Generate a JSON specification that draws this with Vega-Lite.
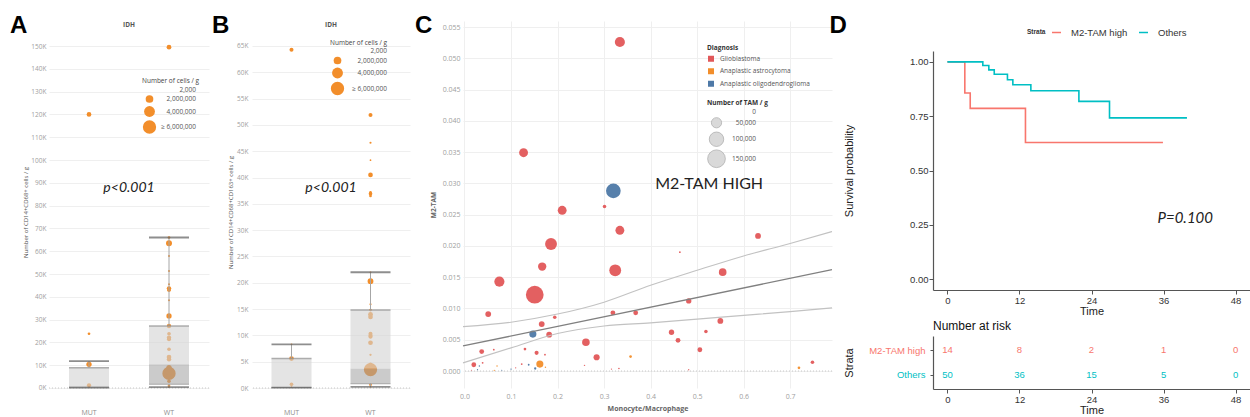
{
  "$schema": "https://vega.github.io/schema/vega-lite/v6.json",
  "padding": {"left": 10, "top": 13, "right": 0, "bottom": 0},
  "autosize": {"type": "pad"},
  "background": "white",
  "config": {"view": {"stroke": null}, "font": "Open Sans", "axis": {"labelOverlap": false}},
  "datasets": {
    "zero": [{"z": 0}],
    "ptsA": [
      {"g": "MUT", "v": 120000, "c": 750000},
      {"g": "MUT", "v": 23800, "c": 250000},
      {"g": "MUT", "v": 10400, "c": 950000},
      {"g": "MUT", "v": 10000, "c": 200000},
      {"g": "MUT", "v": 1200, "c": 600000},
      {"g": "MUT", "v": 400, "c": 100000},
      {"g": "WT", "v": 149500, "c": 750000},
      {"g": "WT", "v": 66000, "c": 250000},
      {"g": "WT", "v": 63500, "c": 1200000},
      {"g": "WT", "v": 57900, "c": 150000},
      {"g": "WT", "v": 51300, "c": 150000},
      {"g": "WT", "v": 45500, "c": 150000},
      {"g": "WT", "v": 43700, "c": 650000},
      {"g": "WT", "v": 42900, "c": 450000},
      {"g": "WT", "v": 38500, "c": 150000},
      {"g": "WT", "v": 31600, "c": 950000},
      {"g": "WT", "v": 27200, "c": 650000},
      {"g": "WT", "v": 23800, "c": 450000},
      {"g": "WT", "v": 22100, "c": 650000},
      {"g": "WT", "v": 21400, "c": 550000},
      {"g": "WT", "v": 17000, "c": 450000},
      {"g": "WT", "v": 13600, "c": 750000},
      {"g": "WT", "v": 12600, "c": 650000},
      {"g": "WT", "v": 8900, "c": 950000},
      {"g": "WT", "v": 7500, "c": 1700000},
      {"g": "WT", "v": 6400, "c": 6000000},
      {"g": "WT", "v": 5000, "c": 950000},
      {"g": "WT", "v": 3000, "c": 450000},
      {"g": "WT", "v": 900, "c": 250000},
      {"g": "WT", "v": 400, "c": 100000}
    ],
    "boxA": [
      {"g": "MUT", "lo": 200, "q1": 300, "med": 600, "q3": 8900, "hi": 11800},
      {"g": "WT", "lo": 400, "q1": 1600, "med": 10400, "q3": 27200, "hi": 66000}
    ],
    "ptsB": [
      {"g": "MUT", "v": 64300, "c": 550000},
      {"g": "MUT", "v": 8300, "c": 100000},
      {"g": "MUT", "v": 5600, "c": 750000},
      {"g": "MUT", "v": 700, "c": 450000},
      {"g": "MUT", "v": 150, "c": 100000},
      {"g": "WT", "v": 51900, "c": 550000},
      {"g": "WT", "v": 46600, "c": 150000},
      {"g": "WT", "v": 43300, "c": 100000},
      {"g": "WT", "v": 40500, "c": 750000},
      {"g": "WT", "v": 37200, "c": 250000},
      {"g": "WT", "v": 36900, "c": 450000},
      {"g": "WT", "v": 36500, "c": 250000},
      {"g": "WT", "v": 22000, "c": 100000},
      {"g": "WT", "v": 20300, "c": 1150000},
      {"g": "WT", "v": 15900, "c": 150000},
      {"g": "WT", "v": 14800, "c": 250000},
      {"g": "WT", "v": 14000, "c": 750000},
      {"g": "WT", "v": 13500, "c": 750000},
      {"g": "WT", "v": 10300, "c": 550000},
      {"g": "WT", "v": 9900, "c": 650000},
      {"g": "WT", "v": 9700, "c": 450000},
      {"g": "WT", "v": 8600, "c": 750000},
      {"g": "WT", "v": 6300, "c": 180000},
      {"g": "WT", "v": 4500, "c": 450000},
      {"g": "WT", "v": 3500, "c": 6000000},
      {"g": "WT", "v": 600, "c": 250000},
      {"g": "WT", "v": 200, "c": 100000}
    ],
    "boxB": [
      {"g": "MUT", "lo": 60, "q1": 100, "med": 250, "q3": 5600, "hi": 8300},
      {"g": "WT", "lo": 200, "q1": 800, "med": 3700, "q3": 14800, "hi": 22000}
    ],
    "ptsC": [
      {"x": 0.334, "y": 0.0526, "d": "Glioblastoma", "m": 48700},
      {"x": 0.127, "y": 0.0349, "d": "Glioblastoma", "m": 37500},
      {"x": 0.320, "y": 0.0288, "d": "Anaplastic oligodendroglioma", "m": 103000},
      {"x": 0.301, "y": 0.0263, "d": "Glioblastoma", "m": 6000},
      {"x": 0.210, "y": 0.0257, "d": "Glioblastoma", "m": 37500},
      {"x": 0.334, "y": 0.0225, "d": "Glioblastoma", "m": 37500},
      {"x": 0.631, "y": 0.0216, "d": "Glioblastoma", "m": 16000},
      {"x": 0.186, "y": 0.0203, "d": "Glioblastoma", "m": 67000},
      {"x": 0.463, "y": 0.0190, "d": "Glioblastoma", "m": 1500},
      {"x": 0.167, "y": 0.0167, "d": "Glioblastoma", "m": 33000},
      {"x": 0.324, "y": 0.0161, "d": "Glioblastoma", "m": 67000},
      {"x": 0.555, "y": 0.0158, "d": "Glioblastoma", "m": 28000},
      {"x": 0.075, "y": 0.0143, "d": "Glioblastoma", "m": 49000},
      {"x": 0.151, "y": 0.0122, "d": "Glioblastoma", "m": 150000},
      {"x": 0.482, "y": 0.0112, "d": "Glioblastoma", "m": 13500},
      {"x": 0.051, "y": 0.0091, "d": "Glioblastoma", "m": 16000},
      {"x": 0.319, "y": 0.0093, "d": "Glioblastoma", "m": 11000},
      {"x": 0.368, "y": 0.0093, "d": "Glioblastoma", "m": 11000},
      {"x": 0.194, "y": 0.0086, "d": "Glioblastoma", "m": 6000},
      {"x": 0.550, "y": 0.0080, "d": "Glioblastoma", "m": 16000},
      {"x": 0.166, "y": 0.0075, "d": "Glioblastoma", "m": 16000},
      {"x": 0.182, "y": 0.0058, "d": "Glioblastoma", "m": 16000},
      {"x": 0.147, "y": 0.0059, "d": "Anaplastic oligodendroglioma", "m": 24000},
      {"x": 0.445, "y": 0.0062, "d": "Glioblastoma", "m": 13500},
      {"x": 0.519, "y": 0.0063, "d": "Glioblastoma", "m": 6000},
      {"x": 0.459, "y": 0.0049, "d": "Glioblastoma", "m": 11000},
      {"x": 0.261, "y": 0.0046, "d": "Glioblastoma", "m": 28000},
      {"x": 0.506, "y": 0.0034, "d": "Glioblastoma", "m": 11000},
      {"x": 0.037, "y": 0.0031, "d": "Glioblastoma", "m": 11000},
      {"x": 0.063, "y": 0.0034, "d": "Glioblastoma", "m": 1500},
      {"x": 0.130, "y": 0.0035, "d": "Glioblastoma", "m": 3400},
      {"x": 0.155, "y": 0.0029, "d": "Glioblastoma", "m": 8000},
      {"x": 0.173, "y": 0.0026, "d": "Glioblastoma", "m": 1500},
      {"x": 0.284, "y": 0.0022, "d": "Glioblastoma", "m": 18000},
      {"x": 0.357, "y": 0.0023, "d": "Anaplastic astrocytoma", "m": 3400},
      {"x": 0.020, "y": 0.0010, "d": "Glioblastoma", "m": 11000},
      {"x": 0.162, "y": 0.0011, "d": "Anaplastic astrocytoma", "m": 24000},
      {"x": 0.719, "y": 0.0005, "d": "Anaplastic astrocytoma", "m": 3400},
      {"x": 0.748, "y": 0.0014, "d": "Glioblastoma", "m": 6000},
      {"x": 0.039, "y": 0.0013, "d": "Glioblastoma", "m": 1500},
      {"x": 0.015, "y": 0.0001, "d": "Glioblastoma", "m": 800},
      {"x": 0.028, "y": 0.0002, "d": "Anaplastic oligodendroglioma", "m": 800},
      {"x": 0.032, "y": 0.0008, "d": "Anaplastic oligodendroglioma", "m": 1000},
      {"x": 0.064, "y": 0.0001, "d": "Anaplastic astrocytoma", "m": 800},
      {"x": 0.070, "y": 0.0008, "d": "Anaplastic astrocytoma", "m": 1000},
      {"x": 0.080, "y": 0.0001, "d": "Anaplastic oligodendroglioma", "m": 800},
      {"x": 0.100, "y": 0.0003, "d": "Anaplastic oligodendroglioma", "m": 1000},
      {"x": 0.110, "y": 0.0005, "d": "Glioblastoma", "m": 800},
      {"x": 0.123, "y": 0.0011, "d": "Glioblastoma", "m": 1500},
      {"x": 0.138, "y": 0.0010, "d": "Anaplastic oligodendroglioma", "m": 1500},
      {"x": 0.152, "y": 0.0004, "d": "Anaplastic oligodendroglioma", "m": 2500},
      {"x": 0.174, "y": 0.0006, "d": "Anaplastic astrocytoma", "m": 1000},
      {"x": 0.258, "y": 0.0009, "d": "Glioblastoma", "m": 1000},
      {"x": 0.316, "y": 0.0003, "d": "Glioblastoma", "m": 800},
      {"x": 0.332, "y": 0.0004, "d": "Glioblastoma", "m": 1200},
      {"x": 0.482, "y": 0.0002, "d": "Glioblastoma", "m": 800}
    ],
    "fitMid": [
      {"x": -0.0032, "y": 0.0040},
      {"x": 0.79, "y": 0.0162}
    ],
    "fitCI": [
      {"l": "upper", "x": -0.0032, "y": 0.0071},
      {"l": "upper", "x": 0.1, "y": 0.0078},
      {"l": "upper", "x": 0.2, "y": 0.0091},
      {"l": "upper", "x": 0.3, "y": 0.0110},
      {"l": "upper", "x": 0.4, "y": 0.0137},
      {"l": "upper", "x": 0.5, "y": 0.0161},
      {"l": "upper", "x": 0.6, "y": 0.0184},
      {"l": "upper", "x": 0.7, "y": 0.0204},
      {"l": "upper", "x": 0.79, "y": 0.0223},
      {"l": "lower", "x": -0.0032, "y": 0.0013},
      {"l": "lower", "x": 0.1, "y": 0.0037},
      {"l": "lower", "x": 0.2, "y": 0.0060},
      {"l": "lower", "x": 0.3, "y": 0.0072},
      {"l": "lower", "x": 0.4, "y": 0.0077},
      {"l": "lower", "x": 0.5, "y": 0.0083},
      {"l": "lower", "x": 0.6, "y": 0.0089},
      {"l": "lower", "x": 0.7, "y": 0.0095},
      {"l": "lower", "x": 0.79, "y": 0.0101}
    ],
    "km": [
      {"k": "M2-TAM high", "t": 0, "s": 1},
      {"k": "M2-TAM high", "t": 2.9, "s": 0.857},
      {"k": "M2-TAM high", "t": 3.8, "s": 0.786},
      {"k": "M2-TAM high", "t": 13.0, "s": 0.629},
      {"k": "M2-TAM high", "t": 35.9, "s": 0.629},
      {"k": "Others", "t": 0, "s": 1},
      {"k": "Others", "t": 5.9, "s": 0.983},
      {"k": "Others", "t": 6.9, "s": 0.963},
      {"k": "Others", "t": 7.8, "s": 0.943},
      {"k": "Others", "t": 10.0, "s": 0.918},
      {"k": "Others", "t": 10.9, "s": 0.895},
      {"k": "Others", "t": 13.9, "s": 0.867},
      {"k": "Others", "t": 21.9, "s": 0.818},
      {"k": "Others", "t": 27.0, "s": 0.742},
      {"k": "Others", "t": 39.9, "s": 0.742}
    ],
    "risk": [
      {"k": "M2-TAM high", "t": 0, "n": 14},
      {"k": "M2-TAM high", "t": 12, "n": 8},
      {"k": "M2-TAM high", "t": 24, "n": 2},
      {"k": "M2-TAM high", "t": 36, "n": 1},
      {"k": "M2-TAM high", "t": 48, "n": 0},
      {"k": "Others", "t": 0, "n": 50},
      {"k": "Others", "t": 12, "n": 36},
      {"k": "Others", "t": 24, "n": 15},
      {"k": "Others", "t": 36, "n": 5},
      {"k": "Others", "t": 48, "n": 0}
    ]
  },
  "bounds": "flush",
  "spacing": 10,
  "resolve": {
    "scale": {"x": "independent", "y": "independent", "color": "independent", "size": "independent"},
    "legend": {"color": "independent", "size": "independent"}
  },
  "hconcat": [
    {
      "width": 160,
      "height": 382,
      "encoding": {
        "x": {"field": "g", "type": "nominal", "scale": {"type": "band", "domain": ["MUT", "WT"], "paddingInner": 0, "paddingOuter": 0},
          "axis": {"title": null, "labelAngle": 0, "labelFontSize": 7, "labelColor": "#8c8c8c", "labelFont": "Open Sans", "ticks": false, "domain": false, "grid": false, "labelPadding": 5}},
        "y": {"type": "quantitative", "scale": {"domain": [-6579, 160965], "nice": false, "zero": false},
          "axis": {"values": [0, 10000, 20000, 30000, 40000, 50000, 60000, 70000, 80000, 90000, 100000, 110000, 120000, 130000, 140000, 150000],
            "labelExpr": "(datum.value/1000) + 'K'", "labelOverlap": false, "title": "Number of CD14+CD68+ cells / g", "titleFontSize": 6, "titleFont": "Open Sans", "titleColor": "#555555", "titleFontWeight": "normal", "titlePadding": 1, "minExtent": 20, "maxExtent": 20,
            "labelFontSize": 6.5, "labelColor": "#a0a0a0", "labelPadding": 3, "ticks": false, "domain": false, "grid": true, "gridColor": "#efefef"}}
      },
      "layer": [
        {
          "data": {"name": "ptsA"},
          "mark": {"type": "circle", "color": "#f28e2b", "opacity": 1},
          "encoding": {
            "y": {"field": "v", "type": "quantitative"},
            "size": {"field": "c", "type": "quantitative", "scale": {"domain": [0, 6000000], "range": [0, 177]},
              "legend": {"title": "Number of cells / g", "orient": "none", "legendX": 93, "legendY": 57, "values": [2000, 2000000, 4000000, 6000000],
                "labelExpr": "datum.value >= 6000000 ? '≥ 6,000,000' : format(datum.value, ',')",
                "titleFontSize": 6.5, "titleFont": "Open Sans", "titleColor": "#444444", "titleFontWeight": "normal", "titlePadding": 2,
                "labelFontSize": 6.5, "labelFont": "Open Sans", "labelColor": "#555555", "labelAlign": "right", "labelOffset": 39, "rowPadding": 0, "padding": 0, "symbolType": "circle",
                "symbolFillColor": "#d9d9d9", "symbolStrokeColor": "#a8a8a8", "symbolStrokeWidth": 0.7, "symbolOpacity": 1}},
            "order": {"field": "c", "sort": "descending"}
          }
        },
        {"data": {"name": "zero"}, "mark": {"type": "rule", "color": "#c8c8c8", "strokeDash": [1, 2], "strokeWidth": 1}, "encoding": {"x": null, "y": {"field": "z", "type": "quantitative"}}},
        {"data": {"name": "boxA"}, "mark": {"type": "rule", "color": "#a6a6a6", "strokeWidth": 1}, "encoding": {"y": {"field": "q3", "type": "quantitative"}, "y2": {"field": "hi"}}},
        {"data": {"name": "boxA"}, "mark": {"type": "rule", "color": "#a6a6a6", "strokeWidth": 1}, "encoding": {"y": {"field": "lo", "type": "quantitative"}, "y2": {"field": "q1"}}},
        {"data": {"name": "boxA"}, "mark": {"type": "bar", "size": 40, "color": "#a0a0a0", "opacity": 0.55}, "encoding": {"y": {"field": "q1", "type": "quantitative"}, "y2": {"field": "med"}}},
        {"data": {"name": "boxA"}, "mark": {"type": "bar", "size": 40, "color": "#d2d2d2", "opacity": 0.6}, "encoding": {"y": {"field": "med", "type": "quantitative"}, "y2": {"field": "q3"}}},
        {"data": {"name": "boxA"}, "mark": {"type": "tick", "size": 40, "thickness": 1.5, "color": "#8f8f8f"}, "encoding": {"y": {"field": "q3", "type": "quantitative"}}},
        {"data": {"name": "boxA"}, "mark": {"type": "tick", "size": 40, "thickness": 1, "color": "#8f8f8f"}, "encoding": {"y": {"field": "q1", "type": "quantitative"}}},
        {"data": {"name": "boxA"}, "mark": {"type": "tick", "size": 40, "thickness": 1.8, "color": "#5e5e5e"}, "encoding": {"y": {"field": "hi", "type": "quantitative"}}},
        {"data": {"name": "boxA"}, "mark": {"type": "tick", "size": 40, "thickness": 1.8, "color": "#5e5e5e"}, "encoding": {"y": {"field": "lo", "type": "quantitative"}}},
        {"data": {"values": [{}]}, "mark": {"type": "text", "text": "p<0.001", "font": "Lato", "fontStyle": "italic", "fontSize": 14, "align": "center", "baseline": "middle", "color": "#222222"},
          "encoding": {"x": {"datum": "WT", "bandPosition": 0}, "y": {"datum": 87719}}},
        {"data": {"values": [{}]}, "mark": {"type": "text", "text": "IDH", "font": "Open Sans", "fontWeight": "bold", "fontSize": 6.5, "align": "center", "baseline": "middle", "color": "#555555"},
          "encoding": {"x": {"datum": "WT", "bandPosition": 0}, "y": {"datum": 159210}}},
        {"data": {"values": [{}]}, "mark": {"type": "text", "text": "A", "font": "Liberation Sans", "fontWeight": "bold", "fontSize": 24, "align": "left", "baseline": "alphabetic", "color": "#000000", "dx": -39},
          "encoding": {"x": {"datum": "MUT", "bandPosition": 0}, "y": {"datum": 155700}}}
      ]
    },
    {"width": 23, "height": 1, "data": {"values": [{}]}, "mark": {"type": "point", "opacity": 0}, "encoding": {}},
    {
      "width": 158,
      "height": 382,
      "encoding": {
        "x": {"field": "g", "type": "nominal", "scale": {"type": "band", "domain": ["MUT", "WT"], "paddingInner": 0, "paddingOuter": 0},
          "axis": {"title": null, "labelAngle": 0, "labelFontSize": 7, "labelColor": "#8c8c8c", "labelFont": "Open Sans", "ticks": false, "domain": false, "grid": false, "labelPadding": 5}},
        "y": {"type": "quantitative", "scale": {"domain": [-2850, 69745], "nice": false, "zero": false},
          "axis": {"values": [0, 5000, 10000, 15000, 20000, 25000, 30000, 35000, 40000, 45000, 50000, 55000, 60000, 65000],
            "labelExpr": "(datum.value/1000) + 'K'", "labelOverlap": false, "title": "Number of CD14+CD68+CD163+ cells / g", "titleFontSize": 6, "titleFont": "Open Sans", "titleColor": "#555555", "titleFontWeight": "normal", "titlePadding": 1, "minExtent": 18, "maxExtent": 18,
            "labelFontSize": 6.5, "labelColor": "#a0a0a0", "labelPadding": 4, "ticks": false, "domain": false, "grid": true, "gridColor": "#efefef"}}
      },
      "layer": [
        {
          "data": {"name": "ptsB"},
          "mark": {"type": "circle", "color": "#f28e2b", "opacity": 1},
          "encoding": {
            "y": {"field": "v", "type": "quantitative"},
            "size": {"field": "c", "type": "quantitative", "scale": {"domain": [0, 6000000], "range": [0, 177]},
              "legend": {"title": "Number of cells / g", "orient": "none", "legendX": 78, "legendY": 18.5, "values": [2000, 2000000, 4000000, 6000000],
                "labelExpr": "datum.value >= 6000000 ? '≥ 6,000,000' : format(datum.value, ',')",
                "titleFontSize": 6.5, "titleFont": "Open Sans", "titleColor": "#444444", "titleFontWeight": "normal", "titlePadding": 2,
                "labelFontSize": 6.5, "labelFont": "Open Sans", "labelColor": "#555555", "labelAlign": "right", "labelOffset": 42, "rowPadding": 0, "padding": 0, "symbolType": "circle",
                "symbolFillColor": "#d9d9d9", "symbolStrokeColor": "#a8a8a8", "symbolStrokeWidth": 0.7, "symbolOpacity": 1}},
            "order": {"field": "c", "sort": "descending"}
          }
        },
        {"data": {"name": "zero"}, "mark": {"type": "rule", "color": "#c8c8c8", "strokeDash": [1, 2], "strokeWidth": 1}, "encoding": {"x": null, "y": {"field": "z", "type": "quantitative"}}},
        {"data": {"name": "boxB"}, "mark": {"type": "rule", "color": "#a6a6a6", "strokeWidth": 1}, "encoding": {"y": {"field": "q3", "type": "quantitative"}, "y2": {"field": "hi"}}},
        {"data": {"name": "boxB"}, "mark": {"type": "rule", "color": "#a6a6a6", "strokeWidth": 1}, "encoding": {"y": {"field": "lo", "type": "quantitative"}, "y2": {"field": "q1"}}},
        {"data": {"name": "boxB"}, "mark": {"type": "bar", "size": 40, "color": "#a0a0a0", "opacity": 0.55}, "encoding": {"y": {"field": "q1", "type": "quantitative"}, "y2": {"field": "med"}}},
        {"data": {"name": "boxB"}, "mark": {"type": "bar", "size": 40, "color": "#d2d2d2", "opacity": 0.6}, "encoding": {"y": {"field": "med", "type": "quantitative"}, "y2": {"field": "q3"}}},
        {"data": {"name": "boxB"}, "mark": {"type": "tick", "size": 40, "thickness": 1.5, "color": "#8f8f8f"}, "encoding": {"y": {"field": "q3", "type": "quantitative"}}},
        {"data": {"name": "boxB"}, "mark": {"type": "tick", "size": 40, "thickness": 1, "color": "#8f8f8f"}, "encoding": {"y": {"field": "q1", "type": "quantitative"}}},
        {"data": {"name": "boxB"}, "mark": {"type": "tick", "size": 40, "thickness": 1.8, "color": "#5e5e5e"}, "encoding": {"y": {"field": "hi", "type": "quantitative"}}},
        {"data": {"name": "boxB"}, "mark": {"type": "tick", "size": 40, "thickness": 1.8, "color": "#5e5e5e"}, "encoding": {"y": {"field": "lo", "type": "quantitative"}}},
        {"data": {"values": [{}]}, "mark": {"type": "text", "text": "p<0.001", "font": "Lato", "fontStyle": "italic", "fontSize": 14, "align": "center", "baseline": "middle", "color": "#222222"},
          "encoding": {"x": {"datum": "WT", "bandPosition": 0}, "y": {"datum": 38008}}},
        {"data": {"values": [{}]}, "mark": {"type": "text", "text": "IDH", "font": "Open Sans", "fontWeight": "bold", "fontSize": 6.5, "align": "center", "baseline": "middle", "color": "#555555"},
          "encoding": {"x": {"datum": "WT", "bandPosition": 0}, "y": {"datum": 68985}}},
        {"data": {"values": [{}]}, "mark": {"type": "text", "text": "B", "font": "Liberation Sans", "fontWeight": "bold", "fontSize": 24, "align": "left", "baseline": "alphabetic", "color": "#000000", "dx": -40},
          "encoding": {"x": {"datum": "MUT", "bandPosition": 0}, "y": {"datum": 67465}}}
      ]
    },
    {"width": 33, "height": 1, "data": {"values": [{}]}, "mark": {"type": "point", "opacity": 0}, "encoding": {}},
    {
      "width": 369,
      "height": 367,
      "encoding": {
        "x": {"type": "quantitative", "scale": {"domain": [-0.0032, 0.79], "nice": false, "zero": false},
          "axis": {"values": [0, 0.1, 0.2, 0.3, 0.4, 0.5, 0.6, 0.7], "format": ".1f", "labelOverlap": false, "title": "Monocyte/Macrophage", "titleFontSize": 7, "titleFont": "Open Sans", "titleColor": "#666666", "titleFontWeight": "bold", "titlePadding": 5,
            "labelFontSize": 7, "labelColor": "#a0a0a0", "labelPadding": 4, "ticks": false, "domain": false, "grid": true, "gridColor": "#efefef"}},
        "y": {"type": "quantitative", "scale": {"domain": [-0.002718, 0.05596], "nice": false, "zero": false},
          "axis": {"values": [0, 0.005, 0.01, 0.015, 0.02, 0.025, 0.03, 0.035, 0.04, 0.045, 0.05, 0.055], "format": ".3f", "labelOverlap": false, "title": "M2-TAM", "titleFontSize": 6.5, "titleFont": "Open Sans", "titleColor": "#666666", "titleFontWeight": "bold", "titlePadding": 1, "minExtent": 26, "maxExtent": 26,
            "labelFontSize": 7, "labelColor": "#a0a0a0", "labelPadding": 3, "ticks": false, "domain": false, "grid": true, "gridColor": "#efefef"}}
      },
      "layer": [
        {
          "data": {"name": "ptsC"},
          "mark": {"type": "circle", "opacity": 0.95},
          "encoding": {
            "x": {"field": "x", "type": "quantitative"},
            "y": {"field": "y", "type": "quantitative"},
            "color": {"field": "d", "type": "nominal", "scale": {"domain": ["Glioblastoma", "Anaplastic astrocytoma", "Anaplastic oligodendroglioma"], "range": ["#e15759", "#f28e2b", "#4e79a7"]},
              "legend": {"title": "Diagnosis", "orient": "none", "legendX": 244, "legendY": 23.75, "symbolType": "square", "symbolSize": 36, "symbolOpacity": 1,
                "titleFontSize": 6.5, "titleFont": "Open Sans", "titleColor": "#333333", "titleFontWeight": "bold", "titlePadding": 3.5,
                "labelFontSize": 6.5, "labelFont": "Open Sans", "labelColor": "#555555", "rowPadding": 4.5, "padding": 0, "labelOffset": 5}},
            "size": {"field": "m", "type": "quantitative", "scale": {"domain": [0, 150000], "range": [0, 314]},
              "legend": {"title": "Number of TAM / g", "orient": "none", "legendX": 244, "legendY": 78.75, "values": [0, 50000, 100000, 150000], "labelExpr": "format(datum.value, ',')",
                "titleFontSize": 6.5, "titleFont": "Open Sans", "titleColor": "#333333", "titleFontWeight": "bold", "titlePadding": 2,
                "labelFontSize": 6.5, "labelFont": "Open Sans", "labelColor": "#555555", "labelAlign": "right", "labelOffset": 30, "rowPadding": 0, "padding": 0, "symbolType": "circle",
                "symbolFillColor": "#d9d9d9", "symbolStrokeColor": "#a8a8a8", "symbolStrokeWidth": 0.7, "symbolOpacity": 1}},
            "order": {"field": "m", "sort": "descending"}
          }
        },
        {"data": {"name": "zero"}, "mark": {"type": "rule", "color": "#c8c8c8", "strokeDash": [1, 2], "strokeWidth": 1}, "encoding": {"x": null, "y": {"field": "z", "type": "quantitative"}}},
        {"data": {"name": "fitCI"}, "mark": {"type": "line", "color": "#c2c2c2", "strokeWidth": 1.1, "interpolate": "monotone"},
          "encoding": {"x": {"field": "x", "type": "quantitative"}, "y": {"field": "y", "type": "quantitative"}, "detail": {"field": "l"}}},
        {"data": {"name": "fitMid"}, "mark": {"type": "line", "color": "#808080", "strokeWidth": 1.3},
          "encoding": {"x": {"field": "x", "type": "quantitative"}, "y": {"field": "y", "type": "quantitative"}}},
        {"data": {"values": [{}]}, "mark": {"type": "text", "text": "M2-TAM HIGH", "font": "Lato", "fontSize": 16, "align": "left", "baseline": "middle", "color": "#222222"},
          "encoding": {"x": {"datum": 0.41}, "y": {"datum": 0.0299}}},
        {"data": {"values": [{}]}, "mark": {"type": "text", "text": "C", "font": "Liberation Sans", "fontWeight": "bold", "fontSize": 24, "align": "left", "baseline": "alphabetic", "color": "#000000"},
          "encoding": {"x": {"datum": -0.1065}, "y": {"datum": 0.05404}}}
      ]
    },
    {"width": 81, "height": 1, "data": {"values": [{}]}, "mark": {"type": "point", "opacity": 0}, "encoding": {}},
    {
      "bounds": "flush",
      "spacing": 15,
      "resolve": {
        "scale": {"x": "independent", "y": "independent", "color": "independent"},
        "legend": {"color": "independent"}
      },
      "vconcat": [
        {"width": 317, "height": 15, "data": {"values": [{}]}, "mark": {"type": "point", "opacity": 0}, "encoding": {}},
        {
          "width": 317,
          "height": 239,
          "layer": [
            {
              "data": {"name": "km"},
              "mark": {"type": "line", "interpolate": "step-after", "strokeWidth": 1.6},
              "encoding": {
                "x": {"field": "t", "type": "quantitative", "scale": {"domain": [-2.4, 50.4], "nice": false, "zero": false},
                  "axis": {"values": [0, 12, 24, 36, 48], "title": "Time", "titleFont": "Liberation Sans", "titleFontSize": 11, "titleFontWeight": "normal", "titleColor": "#222222", "titlePadding": 1,
                    "labelFont": "Liberation Sans", "labelFontSize": 9.5, "labelColor": "#333333", "labelPadding": 1, "tickSize": 4, "tickColor": "#555555", "domainColor": "#555555", "domainWidth": 1.2, "grid": false}},
                "y": {"field": "s", "type": "quantitative", "scale": {"domain": [-0.05, 1.05], "nice": false, "zero": false},
                  "axis": {"values": [0, 0.25, 0.5, 0.75, 1], "format": ".2f", "title": "Survival probability", "titleFont": "Liberation Sans", "titleFontSize": 11, "titleFontWeight": "normal", "titleColor": "#222222", "titlePadding": 0, "minExtent": 79, "maxExtent": 79,
                    "labelFont": "Liberation Sans", "labelFontSize": 9.5, "labelColor": "#333333", "labelPadding": 1, "tickSize": 4, "tickColor": "#555555", "domainColor": "#555555", "domainWidth": 1.2, "grid": false}},
                "color": {"field": "k", "type": "nominal", "scale": {"domain": ["M2-TAM high", "Others"], "range": ["#F8766D", "#00BFC4"]},
                  "legend": {"title": "Strata", "orient": "none", "legendX": 94, "legendY": -24, "direction": "horizontal", "titleOrient": "left", "symbolType": "stroke", "symbolSize": 81, "symbolStrokeWidth": 1.5,
                    "labelFontSize": 9.5, "labelFont": "Liberation Sans", "labelColor": "#333333", "titleFontSize": 6.5, "titleFont": "Liberation Sans", "titleFontWeight": "bold", "titleColor": "#333333", "titlePadding": 5, "columnPadding": 8, "labelOffset": 9, "padding": 0}}
              }
            },
            {"data": {"values": [{}]}, "mark": {"type": "text", "text": "P=0.100", "font": "Lato", "fontStyle": "italic", "fontSize": 15, "align": "left", "baseline": "middle", "color": "#222222"},
              "encoding": {"x": {"datum": 35}, "y": {"datum": 0.283}}},
            {"data": {"values": [{}]}, "mark": {"type": "text", "text": "D", "font": "Liberation Sans", "fontWeight": "bold", "fontSize": 24, "align": "left", "baseline": "alphabetic", "color": "#000000"},
              "encoding": {"x": {"datum": -19.65}, "y": {"datum": 1.133}}}
          ]
        },
        {"width": 317, "height": 16, "data": {"values": [{}]}, "mark": {"type": "point", "opacity": 0}, "encoding": {}},
        {
          "width": 317,
          "height": 53,
          "title": {"text": "Number at risk", "anchor": "start", "frame": "group", "fontSize": 12, "font": "Liberation Sans", "fontWeight": "normal", "color": "#111111", "offset": 3},
          "data": {"name": "risk"},
          "mark": {"type": "text", "fontSize": 9.5, "font": "Liberation Sans"},
          "encoding": {
            "x": {"field": "t", "type": "quantitative", "scale": {"domain": [-2.4, 50.4], "nice": false, "zero": false},
              "axis": {"values": [0, 12, 24, 36, 48], "title": "Time", "titleFont": "Liberation Sans", "titleFontSize": 11, "titleFontWeight": "normal", "titleColor": "#222222", "titlePadding": 1,
                "labelFont": "Liberation Sans", "labelFontSize": 9.5, "labelColor": "#333333", "labelPadding": 1, "tickSize": 4, "tickColor": "#555555", "domainColor": "#555555", "domainWidth": 1.2, "grid": false}},
            "y": {"field": "k", "type": "nominal", "scale": {"type": "point", "domain": ["M2-TAM high", "Others"], "padding": 0.6},
              "axis": {"title": "Strata", "titleFont": "Liberation Sans", "titleFontSize": 11, "titleFontWeight": "normal", "titleColor": "#222222", "titlePadding": 0, "minExtent": 79, "maxExtent": 79,
                "labelFont": "Liberation Sans", "labelFontSize": 9.5, "labelColor": {"condition": {"test": "datum.value == 'Others'", "value": "#00BFC4"}, "value": "#F8766D"},
                "labelPadding": 5, "tickSize": 3, "tickColor": "#555555", "domainColor": "#555555", "domainWidth": 1.2, "grid": false}},
            "text": {"field": "n", "type": "quantitative"},
            "color": {"field": "k", "type": "nominal", "scale": {"domain": ["M2-TAM high", "Others"], "range": ["#F8766D", "#00BFC4"]}, "legend": null}
          }
        }
      ]
    }
  ]
}
